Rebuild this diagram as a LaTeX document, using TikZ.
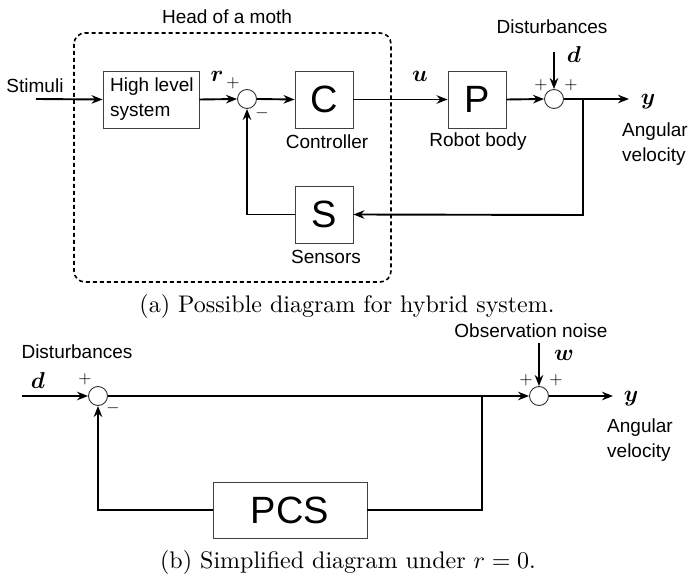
\documentclass[tikz,border=0pt]{standalone}
\usepackage{amsmath,bm}
\usepackage{fontspec}
\setsansfont{Liberation Sans}
\usetikzlibrary{arrows.meta,positioning}
\tikzset{
  blk/.style={draw=black!75, line width=0.9pt, minimum width=58pt, minimum height=57pt, inner sep=0pt, font=\sffamily\fontsize{38}{40}\selectfont},
  sumc/.style={draw=black!80, circle, line width=0.9pt, minimum size=19pt, inner sep=0pt, fill=white},
  lbl/.style={inner sep=0pt, font=\sffamily\fontsize{19}{25}\selectfont},
  mth/.style={inner sep=0pt, font=\fontsize{10}{12}\selectfont, scale=2.3},
  sgn/.style={inner sep=0pt, font=\fontsize{10}{12}\selectfont, scale=1.7},
  captxt/.style={inner sep=0pt, font=\fontsize{10}{12}\selectfont, scale=2.4},
  wire/.style={line width=1.9pt},
  arr/.style={wire, -{Stealth[length=11pt,width=8.5pt]}},
}
\begin{document}
\begin{tikzpicture}[x=1pt,y=-1pt]
\useasboundingbox (0,0) rectangle (690,577);
% ---------- (a) ----------
\draw[line width=1.6pt, dash pattern=on 4pt off 3pt, rounded corners=11pt] (74,33) rectangle (391,282);
\node[lbl] (head) at (227,17) {Head of a moth};
\node[lbl] (stim) at (35,86) {Stimuli};
\coordinate (in) at (36,99);
\node[draw=black!75, line width=0.9pt, minimum width=96pt, minimum height=57pt, inner sep=0pt] (hls) at (151,99.5) {};
\node[lbl, align=left, anchor=west] (hlst) at (110,99.5) {High level\\system};
\node[sumc] (s1) at (247,99) {};
\node[blk] (C) at (324,99.5) {C};
\node[lbl] (ctl) at (327,142) {Controller};
\node[blk] (P) at (477,99.5) {P};
\node[lbl] (rb) at (478,142) {Robot body};
\node[sumc] (s2) at (554,99) {};
\node[blk] (S) at (324,214.5) {S};
\node[lbl] (sen) at (326,257) {Sensors};
\node[lbl] (dist) at (552,27) {Disturbances};
\coordinate (dtop) at (554,52);
\coordinate (br) at (583,99);
\coordinate (brd) at (583,215);
\coordinate (yout) at (629,99);
\node[mth] (r) at (217,76) {$\bm{r}$};
\node[mth] (u) at (420,76) {$\bm{u}$};
\node[mth] (d) at (574,55) {$\bm{d}$};
\node[mth] (y) at (648,102) {$\bm{y}$};
\node[sgn] (p1) at (233,83) {$+$};
\node[sgn] (m1) at (262,113) {$-$};
\node[sgn] (p2) at (541,85) {$+$};
\node[sgn] (p3) at (571,85) {$+$};
\node[lbl, align=left, anchor=west] (av) at (622,144.5) {Angular\\velocity};
\draw[arr] (in) -- (hls.west);
\draw[arr] (hls.east) -- (s1.west);
\draw[arr] (s1.east) -- (C.west);
\draw[arr] (C.east) -- (P.west);
\draw[arr] (P.east) -- (s2.west);
\draw[arr] (dtop) -- (s2.north);
\draw[arr] (s2.east) -- (yout);
\draw[arr] (br) -- (brd) -- (S.east);
\draw[arr] (S.west) -| (s1.south);
\node[captxt] (capa) at (347,306) {(a) Possible diagram for hybrid system.};
% ---------- (b) ----------
\node[lbl] (distb) at (77,352) {Disturbances};
\node[mth] (db) at (38,381) {$\bm{d}$};
\coordinate (inb) at (22,396);
\node[sumc] (b1) at (98,396) {};
\node[sumc] (b2) at (539,396) {};
\node[sgn] (pb1) at (85,379) {$+$};
\node[sgn] (mb1) at (113,408) {$-$};
\node[sgn] (pb2) at (526,380) {$+$};
\node[sgn] (pb3) at (556,380) {$+$};
\node[lbl] (obs) at (531,331) {Observation noise};
\node[mth] (w) at (564,355) {$\bm{w}$};
\coordinate (wtop) at (539,343);
\coordinate (brb) at (482,396);
\coordinate (brbd) at (482,510);
\coordinate (youtb) at (613,396);
\node[mth] (yb) at (631,399) {$\bm{y}$};
\node[lbl, align=left, anchor=west] (avb) at (607,440.5) {Angular\\velocity};
\node[draw=black!75, line width=0.9pt, minimum width=154pt, minimum height=56pt, inner sep=0pt, font=\sffamily\fontsize{38}{40}\selectfont] (pcs) at (290,510) {PCS};
\draw[arr] (inb) -- (b1.west);
\draw[arr] (b1.east) -- (b2.west);
\draw[arr] (wtop) -- (b2.north);
\draw[arr] (b2.east) -- (youtb);
\draw[wire] (brb) -- (brbd) -- (pcs.east);
\draw[arr] (pcs.west) -| (b1.south);
\node[captxt] (capb) at (348,562) {(b) Simplified diagram under $r=0$.};
\end{tikzpicture}
\end{document}
